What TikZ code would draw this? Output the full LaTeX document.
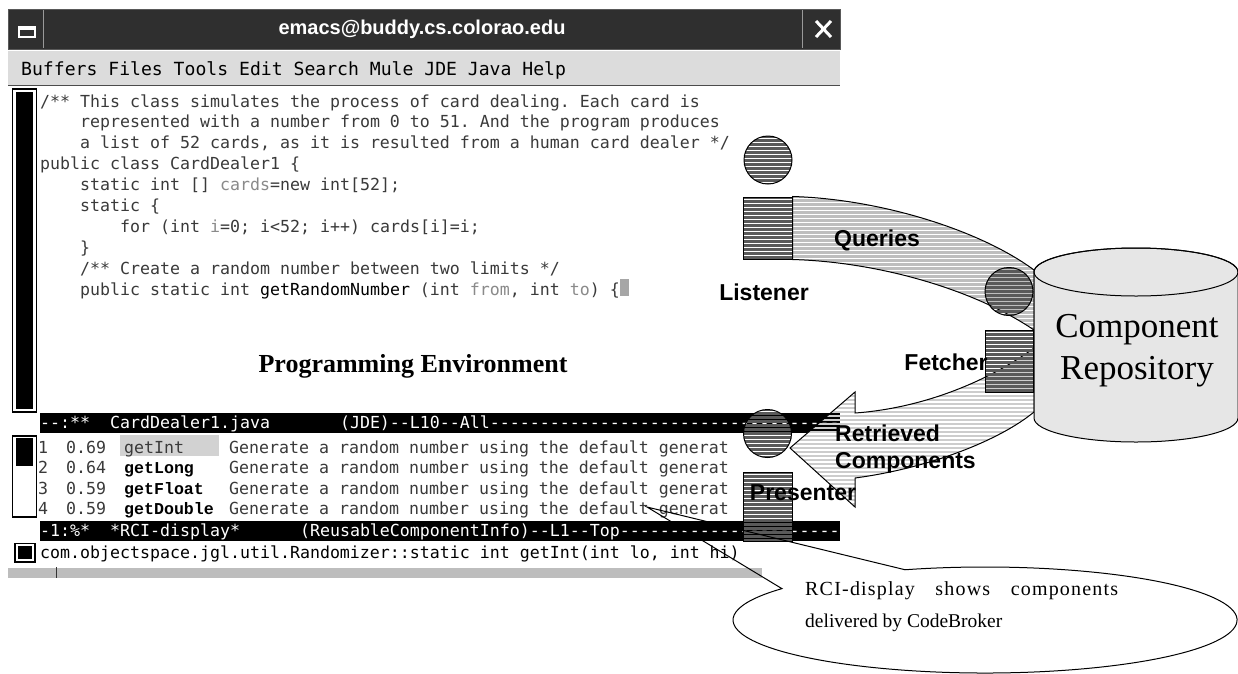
\documentclass[tikz,border=0pt]{standalone}
\usepackage{fontspec}
\setmainfont{Liberation Serif}
\setsansfont{Liberation Sans}
\setmonofont{DejaVu Sans Mono}
\newfontfamily\lmono{Liberation Mono}
\newfontface\spacedserif[LetterSpace=6]{Liberation Serif}
\definecolor{codec}{HTML}{3A3A3A}
\definecolor{varc}{HTML}{8A8A8A}
\definecolor{titlec}{HTML}{2F2F2F}
\definecolor{menuc}{HTML}{DCDCDC}
\definecolor{hic}{HTML}{D2D2D2}
\definecolor{barc}{HTML}{BDBDBD}
\definecolor{darkc}{HTML}{5A5A5A}
\definecolor{bandc}{HTML}{BEBEBE}
\definecolor{arrc}{HTML}{CCCCCC}
\definecolor{cylc}{HTML}{E6E6E6}
\begin{document}
\begin{tikzpicture}[x=1pt,y=-1pt,
  code/.style={anchor=base west, inner sep=0pt, text=codec, font=\fontsize{16.6}{20}\selectfont\ttfamily},
  mode/.style={code, text=white},
  fname/.style={anchor=base west, inner sep=0pt, text=black, font=\fontsize{16.6}{20}\selectfont\lmono\bfseries},
  lbl/.style={inner sep=0pt, text=black, font=\fontsize{23}{26}\selectfont\sffamily\bfseries},
  stripe/.style 2 args={path picture={\foreach \k in {0,...,40}{\draw[line width=#2, #1] ([yshift={-\k*4pt}]path picture bounding box.north west) -- ([yshift={-\k*4pt}]path picture bounding box.north east);}}},
  blob/.style={circle, draw=black, line width=1pt, minimum size=48, inner sep=0pt, stripe={darkc}{3pt}},
  block/.style={rectangle, draw=black, line width=1pt, inner sep=0pt, stripe={darkc}{3pt}},
]
\useasboundingbox (0,0) rectangle (1238,673);
\fill[white] (0,0) rectangle (1238,673);

% ---------- title bar ----------
\fill[titlec] (8,9) rectangle (840,49);
\draw[gray!70!black, line width=1pt] (8,9) rectangle (840,49);
\draw[gray!80, line width=1pt] (43,10) -- (43,48) (802,10) -- (802,48);
\draw[white, line width=1.5pt] (19,27) rectangle (35,37);
\fill[white] (19,27) rectangle (35,30);
\draw[white, line width=3pt] (816,21) -- (831,37) (831,21) -- (816,37);
\node[font=\fontsize{20}{24}\selectfont\sffamily\bfseries, text=white, inner sep=0pt] (title) at (422,29) {emacs@buddy.cs.colorao.edu};

% ---------- menu bar ----------
\fill[menuc] (8,50) rectangle (840,85);
\draw[gray!60!black, line width=1.2pt] (8,85.5) -- (840,85.5);
\draw[white, line width=1pt] (8,50.5) -- (840,50.5);
\node[anchor=base west, inner sep=0pt, text=black, font=\fontsize{18.1}{22}\selectfont\ttfamily] (menu) at (21,75) {Buffers Files Tools Edit Search Mule JDE Java Help};

% ---------- upper buffer ----------
\draw[black, line width=1.2pt] (12.5,89) rectangle (36.5,412);
\fill[black] (16,92) rectangle (33,409);
\node[code] (l1) at (40,107) {/** This class simulates the process of card dealing. Each card is};
\node[code] (l2) at (80,127.9) {represented with a number from 0 to 51. And the program produces};
\node[code] (l3) at (80,148.8) {a list of 52 cards, as it is resulted from a human card dealer */};
\node[code] (l4) at (40,169.7) {public class CardDealer1 \{};
\node[code] (l5) at (80,190.6) {static int [] \textcolor{varc}{cards}=new int[52];};
\node[code] (l6) at (80,211.5) {static \{};
\node[code] (l7) at (120,232.4) {for (int \textcolor{varc}{i}=0; i<52; i++) cards[i]=i;};
\node[code] (l8) at (80,253.3) {\}};
\node[code] (l9) at (80,274.2) {/** Create a random number between two limits */};
\node[code] (l10) at (80,295.1) {public static int \textcolor{black}{getRandomNumber} (int \textcolor{varc}{from}, int \textcolor{varc}{to}) \{};
\fill[gray!70] (620,279) rectangle (629,296);

\node[font=\fontsize{26}{30}\selectfont\bfseries, inner sep=0pt] (pe) at (413,366) {Programming Environment};

% ---------- mode line 1 ----------
\fill[black] (40,413) rectangle (840,433);
\node[mode] (m1) at (40,428) {--:**~~CardDealer1.java~~~~~~~(JDE)--L10--All-----------------------------------};

% ---------- RCI display ----------
\draw[black, line width=1.2pt] (12.5,436) rectangle (36.5,517);
\fill[black] (16,438) rectangle (33,466);
\fill[hic] (120,435) rectangle (219,456);
\node[code] (r1n) at (38,453) {1};
\node[code] (r2n) at (38,473.5) {2};
\node[code] (r3n) at (38,494) {3};
\node[code] (r4n) at (38,514.5) {4};
\node[code] (r1s) at (66,453) {0.69};
\node[code] (r2s) at (66,473.5) {0.64};
\node[code] (r3s) at (66,494) {0.59};
\node[code] (r4s) at (66,514.5) {0.59};
\node[code] (r1f) at (124,453) {getInt};
\node[fname] (r2f) at (124,473.5) {getLong};
\node[fname] (r3f) at (124,494) {getFloat};
\node[fname] (r4f) at (124,514.5) {getDouble};
\node[code] (r1d) at (229,453) {Generate a random number using the default generat};
\node[code] (r2d) at (229,473.5) {Generate a random number using the default generat};
\node[code] (r3d) at (229,494) {Generate a random number using the default generat};
\node[code] (r4d) at (229,514.5) {Generate a random number using the default generat};

% ---------- mode line 2 ----------
\fill[black] (40,521) rectangle (840,541);
\node[mode] (m2) at (40,536) {-1:\%*~~*RCI-display*~~~~~~(ReusableComponentInfo)--L1--Top----------------------};

% ---------- minibuffer ----------
\draw[black, line width=1.2pt] (15,543.5) rectangle (35,562);
\fill[black] (18,546) rectangle (32,559);
\node[code, text=black] (mb) at (40,558) {com.objectspace.jgl.util.Randomizer::static int getInt(int lo, int hi)};
\fill[barc] (8,567) rectangle (762,578);
\draw[white, line width=1pt] (8,567) -- (762,567);
\draw[gray!40!black, line width=1.2pt] (56.5,567) -- (56.5,578);

% ---------- CodeBroker agents ----------
\node[blob] (c1) at (768,160) {};
\node[block, minimum width=49, minimum height=62] (listener) at (767.5,228) {};
\coordinate (rqt) at (1034,270);
\coordinate (rqb) at (1034,330);
\path[draw=black, line width=1pt, stripe={bandc}{2.6pt}]
  (listener.north east) .. controls (880,199) and (980,230) .. (rqt) -- (rqb)
  .. controls (975,290) and (880,262) .. (listener.south east) -- cycle;

\coordinate (tip) at (790,448);
\coordinate (rft) at (1034,348);
\coordinate (rfb) at (1034,412);
\path[draw=black, line width=1pt, stripe={arrc}{1.5pt}]
  (tip) -- (855,392) -- (855,413) .. controls (925,408) and (990,380) .. (rft) -- (rfb)
  .. controls (1000,440) and (930,468) .. (855,478) -- (855,507) -- cycle;

% repository cylinder
\path[draw=black, line width=1pt, fill=cylc] (1034,272) -- (1034,418)
  arc[start angle=180, end angle=0, x radius=102, y radius=24] -- (1238,272)
  arc[start angle=0, end angle=-180, x radius=102, y radius=24] -- cycle;
\draw[line width=1pt] (1136,272) ellipse [x radius=102, y radius=24];
\node[align=center, font=\fontsize{35}{42}\selectfont, inner sep=0pt] (repo) at (1137,351) {Component\\Repository};

\node[blob] (c2) at (1009,291.5) {};
\node[block, minimum width=48, minimum height=62] (fetcher) at (1009,361) {};
\node[blob] (c3) at (767.5,433.5) {};
\node[block, minimum width=49, minimum height=69] (presenter) at (767.5,506.5) {};

\node[lbl] (tq) at (877,240) {Queries};
\node[lbl] (tl) at (764,292) {Listener};
\node[lbl] (tf) at (946,362) {Fetcher};
\node[lbl, anchor=west] (tr) at (835,433) {Retrieved};
\node[lbl, anchor=west] (tc) at (835,463) {Components};
\node[lbl] (tp) at (803,493) {Presenter};

% ---------- callout ----------
\coordinate (ptr) at (647,507);
\fill[white] (985,620) ellipse [x radius=252, y radius=53];
\node[inner sep=0pt] (note) at (985,620) {};
\draw[line width=1pt] (note.center) ++(251.5:252 and 53)
  arc[start angle=251.5, end angle=576.3, x radius=252, y radius=53] -- (ptr) -- cycle;
\node[anchor=base west, inner sep=0pt, font=\fontsize{20}{24}\spacedserif] (n1) at (805,595) {\hbox to 313pt{RCI-display\hfill shows\hfill components}};
\node[anchor=base west, inner sep=0pt, font=\fontsize{19.5}{24}\selectfont] (n2) at (805,627) {delivered by CodeBroker};
\end{tikzpicture}
\end{document}
